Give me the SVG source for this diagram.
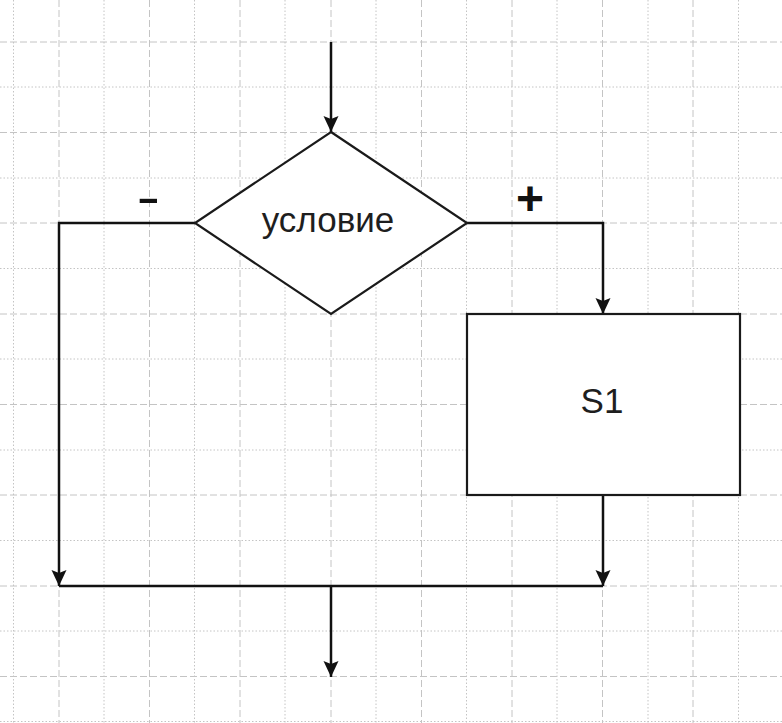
<svg xmlns="http://www.w3.org/2000/svg" width="782" height="723" viewBox="0 0 782 723">
  <style>
    .grid-dash { fill: none; stroke: #c4c4c4; stroke-width: 1; stroke-dasharray: 7 3; }
    .grid-dot { fill: none; stroke: #c4c4c4; stroke-width: 1; stroke-dasharray: 1.5 2; }
    .knot { fill: #fff; stroke: #c4c4c4; stroke-width: 1; }
    .shape { fill: #fff; stroke: #1a1a1a; stroke-width: 2.2; }
    .link { fill: none; stroke: #111; stroke-width: 2.5; }
    .label { font-family: "Liberation Sans", Arial, sans-serif; fill: #1e1e1e; text-anchor: middle; }
    .sign { font-family: "Liberation Sans", Arial, sans-serif; font-weight: bold; fill: #111; text-anchor: middle; }
  </style>
  <defs>
    <marker id="arrow" markerUnits="userSpaceOnUse" markerWidth="18" markerHeight="16" refX="16" refY="7.5" orient="auto">
      <path d="M0,0 L16,7.5 L0,15 L3,7.5 z" fill="#111"/>
    </marker>
  </defs>

  <!-- squared paper -->
  <rect width="782" height="723" fill="#fff"/>
  <g id="grid">
    <path class="grid-dot" d="M13.5,0 V723 M104,0 V723 M194.5,0 V723 M285,0 V723 M376,0 V723 M466.5,0 V723 M557,0 V723 M648,0 V723 M738.5,0 V723"/>
    <path class="grid-dash" d="M59,0 V723 M149.5,0 V723 M240,0 V723 M331,0 V723 M421.5,0 V723 M512,0 V723 M602.5,0 V723 M693,0 V723"/>
    <path class="grid-dot" d="M0,87 H782 M0,178 H782 M0,268.5 H782 M0,359 H782 M0,450 H782 M0,540.5 H782 M0,631 H782 M0,721.5 H782"/>
    <path class="grid-dash" d="M0,42 H782 M0,132.5 H782 M0,223 H782 M0,314 H782 M0,404.5 H782 M0,495 H782 M0,586 H782 M0,676.5 H782"/>
  </g>

  <!-- connectors -->
  <g id="connectors">
    <path class="link" d="M331,42 V132" marker-end="url(#arrow)"/>
    <path class="link" d="M467,223 H603 V314" marker-end="url(#arrow)"/>
    <path class="link" d="M195,223 H59 V586" marker-end="url(#arrow)"/>
    <path class="link" d="M603,495 V586" marker-end="url(#arrow)"/>
    <path class="link" d="M59,586 H603"/>
    <path class="link" d="M331,586 V677" marker-end="url(#arrow)"/>
    <text class="sign" x="0" y="0" font-size="36" transform="translate(148.5,210) scale(1.9,1)">-</text>
    <text class="sign" x="530" y="215" font-size="48">+</text>
  </g>

  <!-- decision -->
  <g id="condition">
    <polygon class="shape" points="331,132 467,223 331,314 195,223"/>
    <text class="label" x="328" y="232" font-size="35">условие</text>
  </g>

  <!-- action block -->
  <g id="s1">
    <rect class="shape" x="467" y="314" width="273" height="181"/>
    <text class="label" x="602" y="413" font-size="35">S1</text>
  </g>
</svg>
